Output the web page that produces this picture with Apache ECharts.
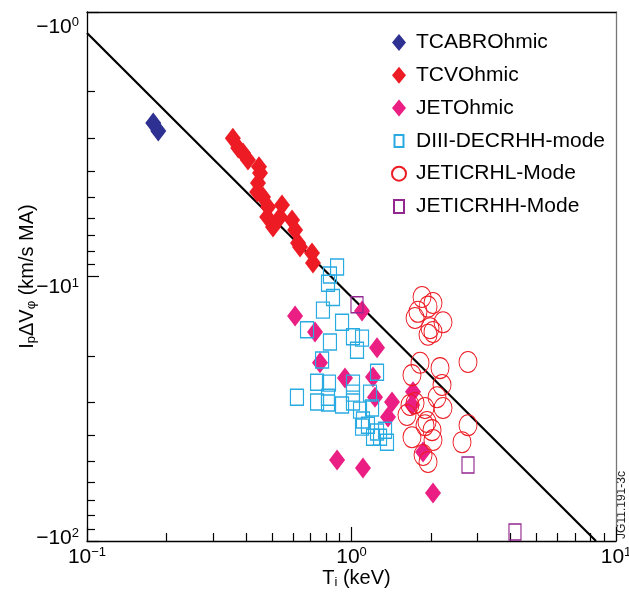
<!DOCTYPE html>
<html>
<head>
<meta charset="utf-8">
<script src="https://cdn.jsdelivr.net/npm/echarts@6/dist/echarts.min.js"></script>
<style>
html,body{margin:0;padding:0;background:#fff;}
#chart{width:629px;height:596px;}
</style>
</head>
<body>
<div id="chart"></div>
<script>
// ---- data (Ti in keV, Ip*dV_phi in km/s MA, negative) ----
const tcabrX = [0.178, 0.186];
const tcabrY = [-2.63, -2.82];

const tcvX = [0.356, 0.373, 0.389, 0.406, 0.447, 0.451, 0.443, 0.440, 0.463, 0.484, 0.480, 0.505, 0.546, 0.537, 0.596, 0.612, 0.628, 0.639, 0.709, 0.715];
const tcvY = [-3.00, -3.27, -3.41, -3.63, -3.85, -4.06, -4.43, -4.79, -5.01, -5.46, -5.96, -6.50, -5.37, -5.96, -6.11, -6.67, -7.47, -7.74, -8.15, -8.89];

const jetOhmX = [0.612, 0.728, 1.096, 1.249, 0.760, 0.945, 1.206, 1.227, 1.423, 1.374, 0.882, 1.105, 1.708, 1.693, 1.864, 2.033];
const jetOhmY = [-14.1, -16.2, -13.5, -18.6, -21.2, -24.2, -24.0, -28.6, -29.8, -34.0, -49.4, -53.0, -27.3, -30.6, -46.1, -65.9];

const diiiX = [0.882, 0.829, 0.815, 0.851, 0.780, 0.679, 0.921, 1.013, 1.096, 1.049, 0.829, 0.774, 1.249, 0.741, 0.822, 1.013, 0.622, 0.741, 0.815, 0.815, 0.921, 1.013, 1.013, 1.077, 1.175, 1.196, 1.105, 1.096, 1.154, 1.249, 1.282, 1.362, 1.339, 1.206];
const diiiY = [-9.21, -9.87, -10.6, -12.0, -13.4, -15.9, -14.9, -16.9, -17.1, -19.0, -17.7, -20.7, -23.0, -25.1, -25.3, -25.3, -28.6, -29.8, -28.6, -30.1, -30.6, -27.6, -29.8, -32.0, -27.6, -31.4, -34.9, -37.1, -36.5, -38.7, -40.5, -42.3, -38.1, -40.5];

const lmodeX = [1.848, 2.033, 1.947, 1.739, 2.218, 1.981, 1.947, 2.033, 2.757, 1.816, 2.161, 1.693, 2.199, 2.105, 2.218, 1.739, 1.621, 1.896, 1.930, 2.016, 1.693, 2.033, 2.757, 2.617, 1.864, 1.947, 1.664, 1.896, 1.784];
const lmodeY = [-11.96, -12.6, -13.0, -14.35, -14.9, -15.7, -16.6, -16.2, -21.05, -21.2, -22.2, -23.6, -25.7, -28.6, -31.4, -30.1, -33.4, -31.4, -35.5, -38.1, -40.5, -41.5, -36.5, -42.3, -47.3, -50.3, -30.6, -36.5, -13.6];

const hmodeX = [1.049, 2.757, 4.15];
const hmodeY = [-12.8, -51.6, -92.5];

const fitX = [0.1, 8.4];
const fitY = [-1.2, -100];

const seriesNames = ['TCABROhmic', 'TCVOhmic', 'JETOhmic', 'DIII-DECRHH-mode', 'JETICRHL-Mode', 'JETICRHH-Mode'];

// axis ticks
const xMajor = [0.1, 1, 10];
const xMinor = [0.2, 0.3, 0.4, 0.5, 0.6, 0.7, 0.8, 0.9, 2, 3, 4, 5, 6, 7, 8, 9];
const yMajor = [1, 10, 100];
const yMinor = [2, 3, 4, 5, 6, 7, 8, 9, 20, 30, 40, 50, 60, 70, 80, 90];
const xTickExp = ['\u22121', '0', '1'];
const yTickExp = ['0', '1', '2'];

const FONT = 'Liberation Sans, Arial, Helvetica, sans-serif';

function pts(xs, ys) { return xs.map((x, i) => [x, -ys[i]]); }

const chart = echarts.init(document.getElementById('chart'), null, {renderer: 'canvas'});

const baseAxisOff = {axisLine: {show: false}, axisLabel: {show: false}, axisTick: {show: false}, splitLine: {show: false}};

const option = {
  animation: false,
  backgroundColor: '#fff',
  grid: {left: 87, top: 12, right: 13, bottom: 55, show: false, outerBoundsMode: 'none'},
  legend: {
    orient: 'vertical', left: 386, top: 27,
    itemWidth: 14, itemHeight: 17, itemGap: 11.8,
    textStyle: {fontFamily: FONT, fontSize: 21, color: '#000', lineHeight: 21, padding: [0, 0, 0, 5]},
    selectedMode: false,
    data: [
      {name: seriesNames[0], icon: 'diamond'},
      {name: seriesNames[1], icon: 'diamond'},
      {name: seriesNames[2], icon: 'diamond'},
      {name: seriesNames[3], icon: 'path://M0,0M14,17M2.5,2.5L11.5,2.5L11.5,14.5L2.5,14.5Z'},
      {name: seriesNames[4], icon: 'circle'},
      {name: seriesNames[5], icon: 'path://M0,0M14,17M2,2L12,2L12,15L2,15Z'}
    ]
  },
  xAxis: [
    {
      type: 'log', logBase: 10, min: 0.1, max: 10, gridIndex: 0, position: 'bottom',
      axisLine: {show: true, onZero: false, lineStyle: {color: '#000', width: 1.3}},
      axisTick: {show: true, inside: true, length: 14, customValues: xMajor, lineStyle: {color: '#000', width: 1.2}},
      axisLabel: {
        show: true, margin: 5, customValues: xMajor, showMinLabel: true, showMaxLabel: true,
        formatter: function (v) {
          const e = xTickExp[xMajor.indexOf(v)] !== undefined ? xTickExp[xMajor.indexOf(v)] : String(Math.round(Math.log10(v)));
          return '{a|10}{s|' + e + '}';
        },
        rich: {
          a: {fontFamily: FONT, fontSize: 21, lineHeight: 22, color: '#000'},
          s: {fontFamily: FONT, fontSize: 13, lineHeight: 13, verticalAlign: 'top', color: '#000'}
        }
      },
      splitLine: {show: false},
      name: '{n|T}{sub|i}{n| (keV)}', nameLocation: 'middle', nameGap: 26, nameMoveOverlap: false,
      nameTextStyle: {
        padding: [0, 0, 0, 10],
        rich: {
          n: {fontFamily: FONT, fontSize: 20, lineHeight: 22, color: '#000'},
          sub: {fontFamily: FONT, fontSize: 13, lineHeight: 13, verticalAlign: 'bottom', color: '#000'}
        }
      }
    },
    Object.assign({type: 'log', logBase: 10, min: 0.1, max: 10, gridIndex: 0, position: 'bottom'}, baseAxisOff,
      {axisTick: {show: true, inside: true, length: 8, customValues: xMinor, lineStyle: {color: '#000', width: 1.2}}}),
    Object.assign({type: 'log', logBase: 10, min: 0.1, max: 10, gridIndex: 0, position: 'top'}, baseAxisOff,
      {axisLine: {show: true, onZero: false, lineStyle: {color: '#000', width: 1.3}}})
  ],
  yAxis: [
    {
      type: 'log', logBase: 10, min: 1, max: 100, inverse: true, gridIndex: 0, position: 'left',
      axisLine: {show: true, onZero: false, lineStyle: {color: '#000', width: 1.3}},
      axisTick: {show: true, inside: true, length: 12, customValues: yMajor, lineStyle: {color: '#000', width: 1.2}},
      axisLabel: {
        show: true, margin: 8, customValues: yMajor, showMinLabel: true, showMaxLabel: true,
        formatter: function (v) {
          const i = yMajor.indexOf(v);
          const e = i >= 0 ? yTickExp[i] : String(Math.round(Math.log10(v)));
          const core = '{a|\u221210}{s|' + e + '}';
          if (e === '0') return '{e0| }\n' + core;
          if (e === '1') return '{e1| }\n' + core;
          return core + '\n{e2| }';
        },
        rich: {
          a: {fontFamily: FONT, fontSize: 21, lineHeight: 22, color: '#000'},
          s: {fontFamily: FONT, fontSize: 13, lineHeight: 13, verticalAlign: 'top', color: '#000'},
          e0: {fontSize: 2, lineHeight: 30},
          e1: {fontSize: 2, lineHeight: 22},
          e2: {fontSize: 2, lineHeight: 6}
        }
      },
      splitLine: {show: false},
      name: '{n|I}{sub|p}{n|\u0394V}{sub|\u03c6}{n| (km/s MA)}', nameLocation: 'middle', nameGap: 49, nameRotate: 90,
      nameMoveOverlap: false,
      nameTextStyle: {
        rich: {
          n: {fontFamily: FONT, fontSize: 20, lineHeight: 22, color: '#000'},
          sub: {fontFamily: FONT, fontSize: 13, lineHeight: 13, verticalAlign: 'bottom', color: '#000'}
        }
      }
    },
    Object.assign({type: 'log', logBase: 10, min: 1, max: 100, inverse: true, gridIndex: 0, position: 'left'}, baseAxisOff,
      {axisTick: {show: true, inside: true, length: 8, customValues: yMinor, lineStyle: {color: '#000', width: 1.2}}}),
    Object.assign({type: 'log', logBase: 10, min: 1, max: 100, inverse: true, gridIndex: 0, position: 'right'}, baseAxisOff,
      {axisLine: {show: true, onZero: false, lineStyle: {color: '#777', width: 1.3}}})
  ],
  graphic: [
    {type: 'text', x: 622, y: 505, rotation: Math.PI / 2,
      style: {text: 'JG11.191-3c', fontFamily: FONT, fontSize: 12, fill: '#222', textAlign: 'center', textVerticalAlign: 'middle'}}
  ],
  series: [
    {type: 'line', name: 'fit', data: pts(fitX, fitY), showSymbol: false, symbol: 'none',
      lineStyle: {color: '#000', width: 2.2}, z: 1, silent: true, clip: true},
    {type: 'scatter', name: seriesNames[0], data: pts(tcabrX, tcabrY), symbol: 'diamond', symbolSize: [16, 21],
      itemStyle: {color: '#2e3192', opacity: 1}, z: 2},
    {type: 'scatter', name: seriesNames[1], data: pts(tcvX, tcvY), symbol: 'diamond', symbolSize: [16, 21],
      itemStyle: {color: '#ed1c24', opacity: 1}, z: 2},
    {type: 'scatter', name: seriesNames[2], data: pts(jetOhmX, jetOhmY), symbol: 'diamond', symbolSize: [16, 21],
      itemStyle: {color: '#ea1e83', opacity: 1}, z: 2},
    {type: 'scatter', name: seriesNames[3], data: pts(diiiX, diiiY), symbol: 'rect', symbolSize: [13, 16],
      itemStyle: {color: 'rgba(0,0,0,0)', borderColor: '#29abe2', borderWidth: 1.3, opacity: 1}, z: 3},
    {type: 'scatter', name: seriesNames[4], data: pts(lmodeX, lmodeY), symbol: 'circle', symbolSize: [18, 21],
      itemStyle: {color: 'rgba(0,0,0,0)', borderColor: '#ed1c24', borderWidth: 1, opacity: 1}, z: 3},
    {type: 'scatter', name: seriesNames[5], data: pts(hmodeX, hmodeY), symbol: 'rect', symbolSize: [12, 16],
      itemStyle: {color: 'rgba(0,0,0,0)', borderColor: '#92278f', borderWidth: 1.3, opacity: 1}, z: 3}
  ]
};
chart.setOption(option);
</script>
</body>
</html>
